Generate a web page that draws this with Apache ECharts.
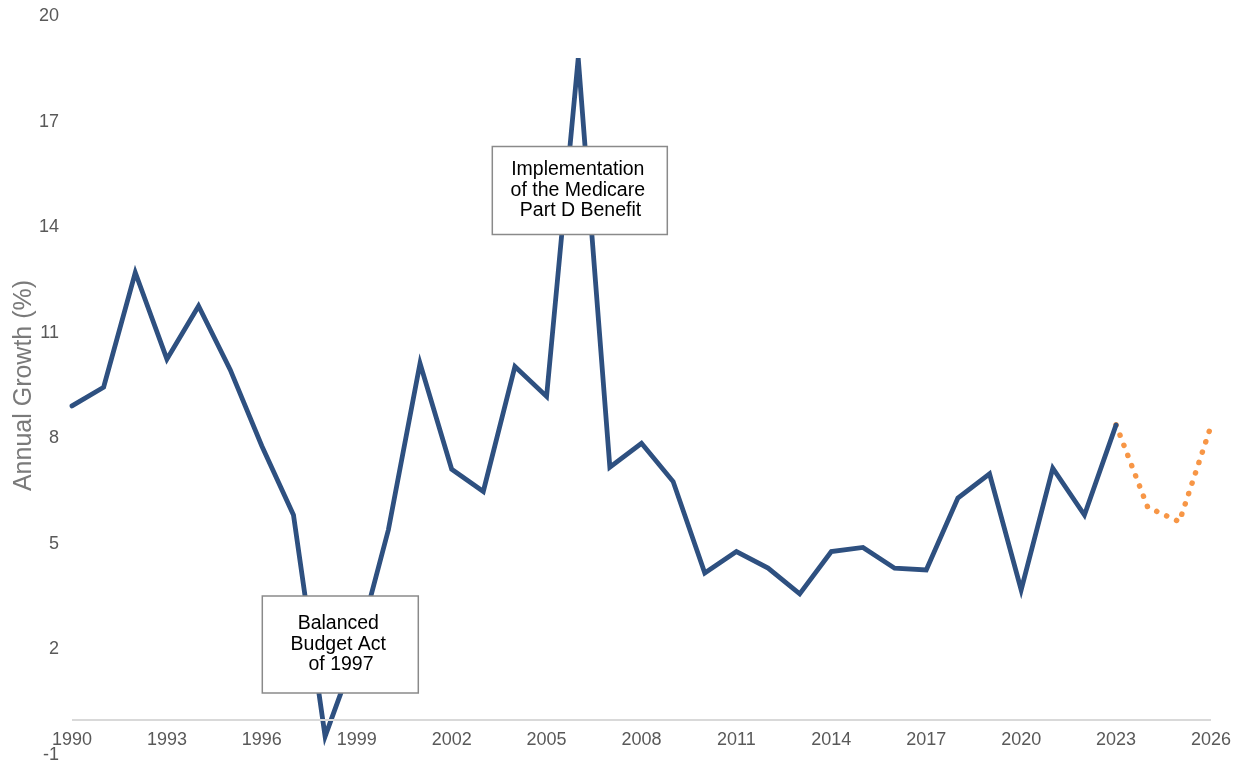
<!DOCTYPE html>
<html>
<head>
<meta charset="utf-8">
<style>
  html, body { margin: 0; padding: 0; background: #ffffff; }
  #chart { width: 1243px; height: 764px; }
</style>
<script src="https://cdn.jsdelivr.net/npm/echarts@6/dist/echarts.min.js"></script>
</head>
<body>
<div id="chart"></div>
<script>
// ---- data ----
const years = ['1990','1991','1992','1993','1994','1995','1996','1997','1998','1999',
  '2000','2001','2002','2003','2004','2005','2006','2007','2008','2009',
  '2010','2011','2012','2013','2014','2015','2016','2017','2018','2019',
  '2020','2021','2022','2023','2024','2025','2026'];
const actualGrowth = [8.92, 9.45, 12.71, 10.25, 11.76, 9.95, 7.78, 5.82, -0.47, 2.0,
  5.4, 10.13, 7.12, 6.49, 10.04, 9.19, 18.8, 7.18, 7.86, 6.77,
  4.17, 4.78, 4.31, 3.58, 4.78, 4.9, 4.31, 4.26, 6.3, 6.99,
  3.69, 7.15, 5.82, 8.38, null, null, null];
const projectedGrowth = [null, null, null, null, null, null, null, null, null, null,
  null, null, null, null, null, null, null, null, null, null,
  null, null, null, null, null, null, null, null, null, null,
  null, null, null, 8.38, 6.04, 5.63, 8.35];
const xTickLabels = ['1990','1993','1996','1999','2002','2005','2008','2011','2014','2017','2020','2023','2026'];
const yTickLabels = [-1, 2, 5, 8, 11, 14, 17, 20];
const baselineValue = 0;
const yAxisTitle = 'Annual Growth (%)';
const annotationTexts = ['Balanced\nBudget Act\n of 1997', 'Implementation\nof the Medicare\n Part D Benefit'];
// annotation anchors (box centre in data space: category index, value)
const annotationAnchors = [[8.48, 2.14], [16.05, 15.04]];
const annotationSizes = [[156, 97], [175, 88]];

const chart = echarts.init(document.getElementById('chart'), null, { renderer: 'canvas' });

const option = {
  animation: false,
  backgroundColor: '#ffffff',
  grid: { left: 72, right: 32, top: 16, bottom: 9, containLabel: false, outerBoundsMode: 'none' },
  xAxis: {
    type: 'category',
    data: years,
    boundaryGap: false,
    axisLine: { show: false, onZero: false },
    axisTick: { show: false },
    splitLine: { show: false },
    axisLabel: {
      show: true,
      interval: 0,
      formatter: function (val) { return xTickLabels.indexOf(String(val)) >= 0 ? String(val) : ''; },
      color: '#595959',
      fontSize: 18,
      fontFamily: 'Liberation Sans, Arial, sans-serif',
      margin: -24
    }
  },
  yAxis: {
    type: 'value',
    min: -1,
    max: 20,
    interval: 1,
    name: yAxisTitle,
    nameLocation: 'middle',
    nameGap: 35,
    nameRotate: 90,
    nameMoveOverlap: false,
    nameTextStyle: { color: '#7a7a7a', fontSize: 25, fontFamily: 'Liberation Sans, Arial, sans-serif' },
    axisLine: { show: false },
    axisTick: { show: false },
    splitLine: { show: false },
    axisLabel: {
      color: '#595959',
      fontSize: 18,
      fontFamily: 'Liberation Sans, Arial, sans-serif',
      margin: 13,
      formatter: function (v) {
        const r = Math.round(v);
        return yTickLabels.indexOf(r) >= 0 ? String(r) : '';
      }
    }
  },
  series: [
    {
      name: 'Projected',
      type: 'line',
      data: projectedGrowth,
      showSymbol: false,
      symbol: 'none',
      z: 2,
      lineStyle: { color: '#F79646', width: 5.5, type: [0.1, 10.8], cap: 'round' },
      markLine: {
        silent: true,
        symbol: 'none',
        label: { show: false },
        lineStyle: { color: '#d9d9d9', width: 2, type: 'solid' },
        data: [{ yAxis: baselineValue }]
      }
    },
    {
      name: 'Actual',
      type: 'line',
      data: actualGrowth,
      showSymbol: false,
      symbol: 'none',
      z: 3,
      lineStyle: { color: '#2E5080', width: 4.8, cap: 'round', join: 'miter' }
    }
  ]
};
chart.setOption(option);

function pixelAt(idxFloat, value) {
  const i0 = Math.floor(idxFloat);
  const i1 = Math.min(i0 + 1, years.length - 1);
  const p0 = chart.convertToPixel({ gridIndex: 0 }, [i0, value]);
  const p1 = chart.convertToPixel({ gridIndex: 0 }, [i1, value]);
  const t = idxFloat - i0;
  return [p0[0] + (p1[0] - p0[0]) * t, p0[1]];
}

const elements = [];
annotationTexts.forEach(function (txt, k) {
  const c = pixelAt(annotationAnchors[k][0], annotationAnchors[k][1]);
  const w = annotationSizes[k][0], h = annotationSizes[k][1];
  elements.push({
    type: 'rect',
    z: 100,
    shape: { x: c[0] - w / 2, y: c[1] - h / 2, width: w, height: h },
    style: { fill: '#ffffff', stroke: '#8a8a8a', lineWidth: 1.5 }
  });
  elements.push({
    type: 'text',
    z: 101,
    x: c[0] - 2,
    y: c[1],
    style: {
      text: txt,
      fill: '#000000',
      fontSize: 19.5,
      lineHeight: 20.5,
      fontFamily: 'Liberation Sans, Arial, sans-serif',
      align: 'center',
      verticalAlign: 'middle'
    }
  });
});
chart.setOption({ graphic: { elements: elements } });
</script>
</body>
</html>
